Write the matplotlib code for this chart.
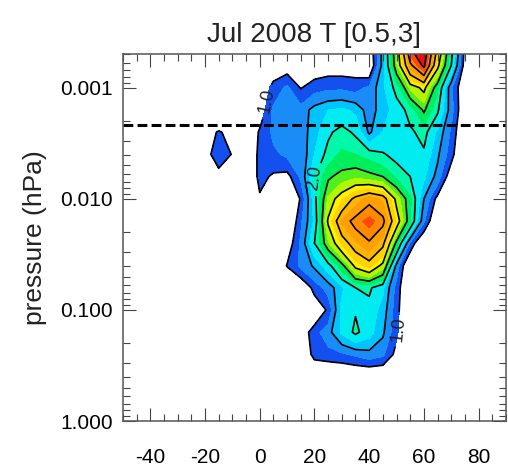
import numpy as np
import matplotlib
matplotlib.use('Agg')
import matplotlib.pyplot as plt
from matplotlib.ticker import FixedLocator, LogLocator, FuncFormatter, MultipleLocator, NullFormatter

plt.rcParams['font.family'] = ['Liberation Sans', 'DejaVu Sans']
plt.rcParams['axes.unicode_minus'] = False

# latitude columns (deg) and log10 pressure rows (hPa)
lat = [-50, -45, -40, -35, -30, -25, -20, -15, -10, -5, 0, 5, 10, 15,
       20, 25, 30, 35, 40, 45, 50, 55, 60, 65, 70, 75, 80, 85, 90]
log_p = [-3.4, -3.2, -3.0, -2.8, -2.6, -2.4, -2.2, -2.0, -1.8,
         -1.6, -1.4, -1.2, -1.0, -0.8, -0.6, -0.4, -0.2, 0.0]

# amplitude on each pressure row, -50..90 deg
amp_340 = [0.6] * 18 + [0.8, 1.6, 2.8, 4.6, 5.0, 3.5, 2.2, 0.95, 0.6, 0.6, 0.6]
amp_320 = [0.6] * 11 + [0.8, 0.85, 0.75, 0.8, 0.85, 0.85, 0.85, 0.7, 1.6, 2.7,
                        3.9, 4.6, 3.1, 2.0, 0.85, 0.6, 0.6, 0.6]
amp_300 = [0.6] * 10 + [0.75, 1.1, 1.3, 0.98, 1.15, 1.2, 1.2, 1.15, 1.3, 1.7,
                        2.1, 2.8, 3.1, 2.3, 1.3, 0.7, 0.6, 0.6, 0.6]
amp_280 = [0.6] * 10 + [0.8, 1.3, 1.35, 1.35, 1.6, 1.75, 1.8, 1.7, 1.35, 1.65,
                        1.85, 2.1, 2.55, 2.05, 1.35, 0.7, 0.6, 0.6, 0.6]
amp_260 = [0.6] * 6 + [0.85, 1.03, 0.9, 0.6, 1.05, 1.3, 1.35, 1.35, 1.65, 1.95,
                       2.1, 1.95, 1.45, 1.75, 1.9, 1.95, 2.1, 1.7, 1.2, 0.65,
                       0.6, 0.6, 0.6]
amp_240 = [0.6] * 6 + [0.85, 1.2, 0.98, 0.6, 1.1, 1.2, 1.3, 1.3, 1.75, 2.1,
                       2.3, 2.25, 2.15, 2.03, 1.9, 1.85, 1.95, 1.55, 1.1, 0.6,
                       0.6, 0.6, 0.6]
amp_220 = [0.6] * 6 + [0.6, 0.85, 0.6, 0.6, 1.1, 0.95, 0.9, 1.3, 2.0, 2.45,
                       2.6, 2.7, 2.6, 2.5, 2.2, 2.0, 1.8, 1.4, 0.8, 0.6,
                       0.6, 0.6, 0.6]
amp_200 = [0.6] * 10 + [0.95, 0.6, 0.75, 1.02, 1.9, 2.8, 3.2, 3.6, 3.9, 3.7,
                        2.9, 2.3, 1.5, 0.9, 0.6, 0.6, 0.6, 0.6, 0.6]
amp_180 = [0.6] * 12 + [0.6, 1.2, 1.8, 3.05, 3.8, 4.13, 4.35, 4.1, 3.2, 2.3,
                        1.3, 0.6] + [0.6] * 5
amp_160 = [0.6] * 12 + [0.8, 1.3, 2.0, 2.7, 3.3, 3.7, 3.95, 3.6, 2.4, 1.2,
                        0.6] + [0.6] * 6
amp_140 = [0.6] * 12 + [1.02, 1.3, 1.55, 1.9, 2.4, 3.1, 3.35, 2.9, 1.4,
                        0.6] + [0.6] * 7
amp_120 = [0.6] * 13 + [0.7, 1.1, 1.35, 1.7, 2.0, 2.05, 1.8, 1.15, 0.6] + [0.6] * 7
amp_100 = [0.6] * 14 + [0.75, 1.05, 1.85, 1.98, 1.9, 1.65, 1.1, 0.6] + [0.6] * 7
amp_080 = [0.6] * 13 + [0.8, 1.15, 1.4, 1.8, 2.06, 1.85, 1.55, 1.05, 0.6] + [0.6] * 7
amp_060 = [0.6] * 13 + [0.7, 1.1, 1.15, 1.2, 1.3, 1.4, 1.3, 0.9, 0.6] + [0.6] * 7
amp_040 = [0.6] * 29
amp_020 = [0.6] * 29
amp_000 = [0.6] * 29

fill_levels = [1.0, 1.25, 1.5, 1.75, 2.0, 2.25, 2.5, 2.75, 3.0, 3.25,
               3.5, 3.75, 4.0, 4.25, 4.5]
label_levels = [1.0, 2.0]
plain_levels = [1.5, 2.5, 3.0, 3.5, 4.0, 4.5]
band_colors = ['#1450f0', '#1a8cf8', '#00c4ff', '#00ecf0', '#00f8a8',
               '#00ee5c', '#50f020', '#b4f500', '#fff000', '#ffd200',
               '#ffb600', '#ffa000', '#ff8a00', '#ff4a0c', '#ff0a0a']
dash_p = 0.00215

amp = np.array([amp_340, amp_320, amp_300, amp_280, amp_260, amp_240,
                amp_220, amp_200, amp_180, amp_160, amp_140, amp_120,
                amp_100, amp_080, amp_060, amp_040, amp_020, amp_000])
X, Y = np.meshgrid(lat, 10.0 ** np.array(log_p))

fig = plt.figure(figsize=(5.08, 4.69), dpi=100)
ax = fig.add_axes([0.242, 0.102, 0.754, 0.7825])
ax.set_yscale('log')
ax.set_xlim(-50, 90)
ax.set_ylim(1.0, 5e-4)

ax.contourf(X, Y, amp, levels=fill_levels, colors=band_colors, extend='max')
ax.contour(X, Y, amp, levels=plain_levels, colors='black', linewidths=1.2)
cs = ax.contour(X, Y, amp, levels=label_levels, colors='black', linewidths=1.2)
ax.clabel(cs, fmt='%.1f', fontsize=13, colors='#222222',
          manual=[(-0.7, 0.00128), (21.0, 0.0065), (54.0, 0.15)])

ax.axhline(dash_p, color='black', lw=2.2, ls=(0, (3.2, 1.4)))

ax.xaxis.set_major_locator(FixedLocator([-40, -20, 0, 20, 40, 60, 80]))
ax.xaxis.set_minor_locator(MultipleLocator(5))
ax.yaxis.set_major_locator(FixedLocator([0.001, 0.01, 0.1, 1.0]))
ax.yaxis.set_major_formatter(FuncFormatter(lambda v, pos: '%.3f' % v))
ax.yaxis.set_minor_locator(LogLocator(base=10, subs=np.arange(2, 10)))
ax.yaxis.set_minor_formatter(NullFormatter())

ax.tick_params(which='both', direction='in', top=True, right=True,
               color='#444444', width=0.8, labelsize=15, pad=7)
ax.tick_params(which='major', length=9.5)
ax.tick_params(which='minor', length=5)
ax.tick_params(axis='x', pad=19)
for s in ax.spines.values():
    s.set_color('#555555')
    s.set_linewidth(1.1)

ax.set_title('Jul 2008 T [0.5,3]', fontsize=20, pad=9, color='#222222')
ax.set_ylabel('pressure (hPa)', fontsize=19, labelpad=10, color='#222222')

fig.savefig('out.png', dpi=100)
